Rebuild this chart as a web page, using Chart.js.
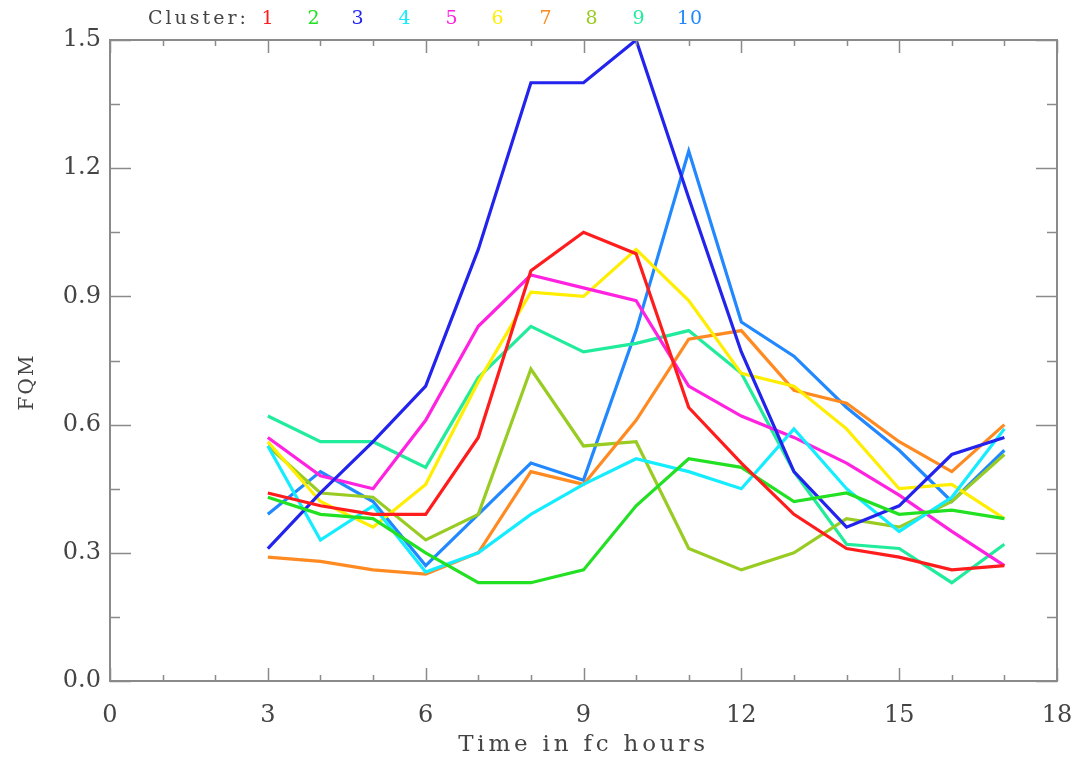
<!DOCTYPE html>
<html>
<head>
<meta charset="utf-8">
<script src="https://cdn.jsdelivr.net/npm/chart.js@4.4.1/dist/chart.umd.min.js"></script>
<style>
  html, body { margin: 0; padding: 0; background: #ffffff; }
  #wrap { width: 1077px; height: 759px; position: relative; }
</style>
</head>
<body>
<div id="wrap"><canvas id="c" width="1077" height="759"></canvas></div>
<script>
// ---- data ----
const hours = [3, 4, 5, 6, 7, 8, 9, 10, 11, 12, 13, 14, 15, 16, 17];
const clusterNames = ["1", "2", "3", "4", "5", "6", "7", "8", "9", "10"];
const cluster1 = [0.44, 0.41, 0.39, 0.39, 0.57, 0.96, 1.05, 1.00, 0.64, 0.51, 0.39, 0.31, 0.29, 0.26, 0.27];
const cluster2 = [0.43, 0.39, 0.38, 0.30, 0.23, 0.23, 0.26, 0.41, 0.52, 0.50, 0.42, 0.44, 0.39, 0.40, 0.38];
const cluster3 = [0.31, 0.44, 0.56, 0.69, 1.01, 1.40, 1.40, 1.50, 1.13, 0.77, 0.49, 0.36, 0.41, 0.53, 0.57];
const cluster4 = [0.55, 0.33, 0.41, 0.255, 0.30, 0.39, 0.46, 0.52, 0.49, 0.45, 0.59, 0.45, 0.35, 0.43, 0.59];
const cluster5 = [0.57, 0.48, 0.45, 0.61, 0.83, 0.95, 0.92, 0.89, 0.69, 0.62, 0.57, 0.51, 0.435, 0.35, 0.27];
const cluster6 = [0.56, 0.42, 0.36, 0.46, 0.70, 0.91, 0.90, 1.01, 0.89, 0.72, 0.69, 0.59, 0.45, 0.46, 0.38];
const cluster7 = [0.29, 0.28, 0.26, 0.25, 0.30, 0.49, 0.46, 0.61, 0.80, 0.82, 0.68, 0.65, 0.56, 0.49, 0.60];
const cluster8 = [0.55, 0.44, 0.43, 0.33, 0.39, 0.73, 0.55, 0.56, 0.31, 0.26, 0.30, 0.38, 0.36, 0.42, 0.53];
const cluster9 = [0.62, 0.56, 0.56, 0.50, 0.71, 0.83, 0.77, 0.79, 0.82, 0.72, 0.49, 0.32, 0.31, 0.23, 0.32];
const cluster10 = [0.39, 0.49, 0.42, 0.27, 0.39, 0.51, 0.47, 0.82, 1.24, 0.84, 0.76, 0.64, 0.54, 0.42, 0.54];
const xTickValues = [0, 3, 6, 9, 12, 15, 18];
const yTickValues = [0.0, 0.3, 0.6, 0.9, 1.2, 1.5];
const xTitle = "Time in fc hours";
const yTitle = "FQM";
const legendPrefix = "Cluster:";

// ---- styles ----
const colors = ["#ff1c1c", "#22e022", "#2323ee", "#14ecff", "#ff22e0", "#ffee00", "#ff8a22", "#99cc22", "#20ec9c", "#2288ff"];
const allSeries = [cluster1, cluster2, cluster3, cluster4, cluster5, cluster6, cluster7, cluster8, cluster9, cluster10];
const AXIS = "#8a8a8a";
const TEXT = "#444444";
const FONT = "'DejaVu Serif', 'Liberation Serif', serif";

const datasets = allSeries.map((s, i) => ({
  label: clusterNames[i],
  data: hours.map((h, k) => ({ x: h, y: s[k] })),
  borderColor: colors[i],
  backgroundColor: colors[i],
  borderWidth: 3.2,
  pointRadius: 0,
  tension: 0,
  fill: false
}));

const frame = {
  id: "frame",
  afterDraw(chart) {
    const ctx = chart.ctx;
    const a = chart.chartArea;
    const xs = chart.scales.x, ys = chart.scales.y;
    ctx.save();
    ctx.strokeStyle = AXIS;
    ctx.lineWidth = 2;
    ctx.strokeRect(a.left, a.top, a.right - a.left, a.bottom - a.top);
    ctx.lineWidth = 1.5;
    for (let v = xs.min; v <= xs.max + 1e-9; v += 1) {
      const px = Math.round(xs.getPixelForValue(v)) + 0.5;
      const len = (Math.abs(v % 3) < 1e-9) ? 13 : 6;
      ctx.beginPath();
      ctx.moveTo(px, a.bottom); ctx.lineTo(px, a.bottom - len);
      ctx.moveTo(px, a.top); ctx.lineTo(px, a.top + len);
      ctx.stroke();
    }
    for (let k = 0; k <= 10; k++) {
      const v = k * 0.15;
      const py = Math.round(ys.getPixelForValue(v)) + 0.5;
      const len = (k % 2 === 0) ? 21 : 10;
      ctx.beginPath();
      ctx.moveTo(a.left, py); ctx.lineTo(a.left + len, py);
      ctx.moveTo(a.right, py); ctx.lineTo(a.right - len, py);
      ctx.stroke();
    }
    ctx.fillStyle = TEXT;
    ctx.font = "23px " + FONT;
    ctx.letterSpacing = "3.8px";
    ctx.textAlign = "center";
    ctx.textBaseline = "middle";
    ctx.fillText(xTitle, (a.left + a.right) / 2, 745);
    ctx.save();
    ctx.translate(28, 382);
    ctx.rotate(-Math.PI / 2);
    ctx.font = "20px " + FONT;
    ctx.letterSpacing = "2px";
    ctx.fillText(yTitle, 0, 0);
    ctx.restore();
    ctx.font = "19px " + FONT;
    ctx.letterSpacing = "3px";
    ctx.textAlign = "left";
    ctx.fillStyle = TEXT;
    ctx.fillText(legendPrefix, 148, 19);
    const centers = [268, 314, 358, 405, 452, 498, 546, 592, 639, 690];
    ctx.textAlign = "center";
    ctx.letterSpacing = "1px";
    chart.data.datasets.forEach((ds, i) => {
      ctx.fillStyle = ds.borderColor;
      ctx.fillText(ds.label, centers[i], 19);
    });
    ctx.restore();
  }
};

new Chart(document.getElementById("c"), {
  type: "line",
  data: { datasets },
  plugins: [frame],
  options: {
    responsive: false,
    animation: false,
    devicePixelRatio: 1,
    layout: { padding: { left: 0, right: 20, top: 40, bottom: 0 } },
    plugins: { legend: { display: false }, tooltip: { enabled: false }, title: { display: false } },
    scales: {
      x: {
        type: "linear",
        min: 0, max: 18,
        afterBuildTicks: (s) => { s.ticks = xTickValues.map(v => ({ value: v })); },
        afterFit: (s) => { s.height = 78; s.paddingRight = 0; s.paddingLeft = 0; },
        grid: { display: false, drawTicks: false },
        border: { display: false },
        ticks: {
          color: TEXT, padding: 20,
          font: { family: FONT, size: 24 },
          maxRotation: 0, autoSkip: false,
          callback: (v) => String(v)
        }
      },
      y: {
        type: "linear",
        min: 0, max: 1.5,
        afterBuildTicks: (s) => { s.ticks = yTickValues.map(v => ({ value: v })); },
        afterFit: (s) => { s.width = 110; s.paddingTop = 0; s.paddingBottom = 0; },
        grid: { display: false, drawTicks: false },
        border: { display: false },
        ticks: {
          color: TEXT, padding: 9,
          font: { family: FONT, size: 24 },
          autoSkip: false,
          callback: (v) => Number(v).toFixed(1)
        }
      }
    }
  }
});
</script>
</body>
</html>
